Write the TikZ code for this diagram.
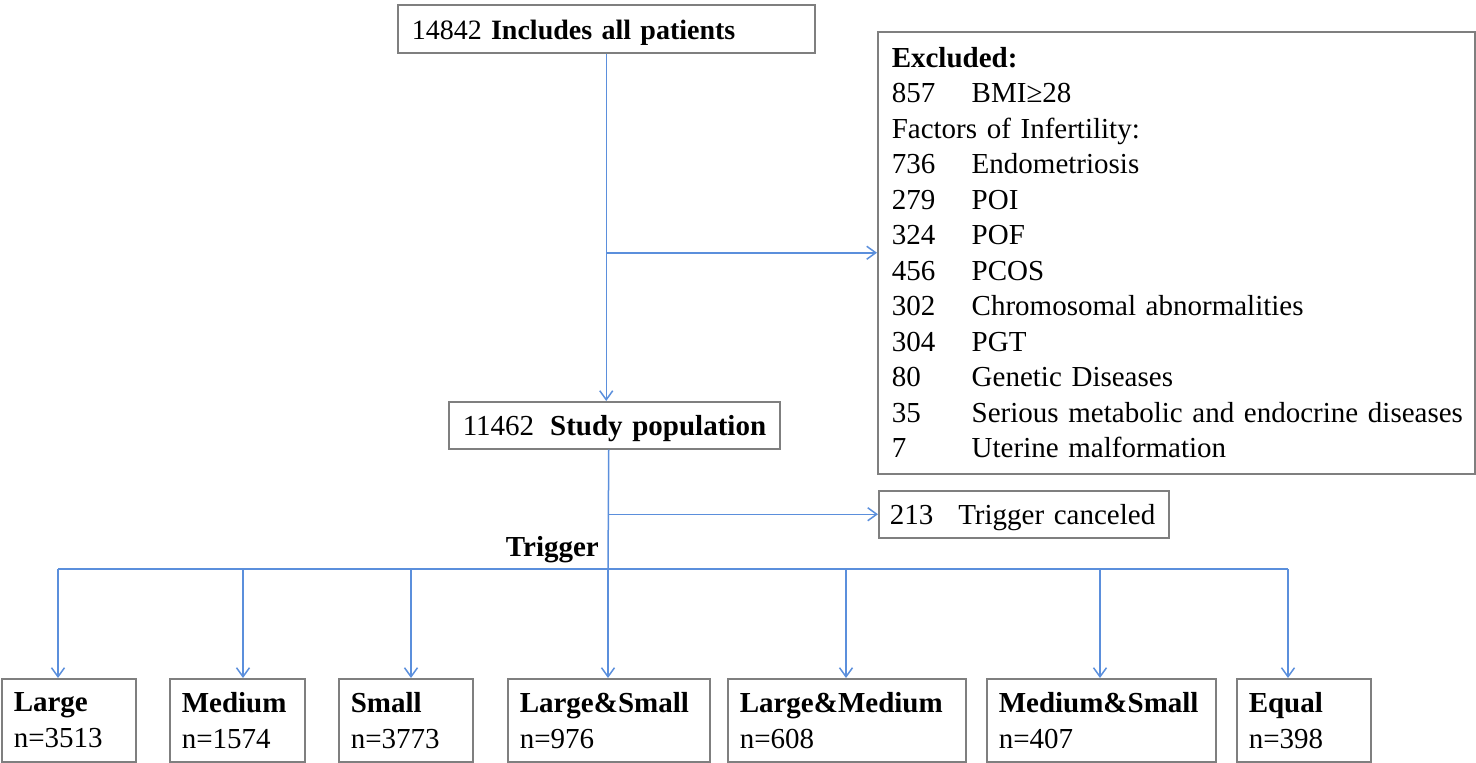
\documentclass[tikz,border=0pt]{standalone}
\usepackage{fontspec}
\setmainfont{Liberation Serif}
\usetikzlibrary{arrows.meta}
\definecolor{flowblue}{HTML}{5B8FDC}
\definecolor{boxgray}{HTML}{7F7F7F}
\newcommand\exrow[2]{\mbox{\makebox[80pt][l]{#1}#2}}

\begin{document}
\begin{tikzpicture}[x=1pt, y=-1pt,
		font=\fontsize{29pt}{36pt}\selectfont,
		box/.style={draw=boxgray, line width=1.5pt, anchor=north west, align=left, inner ysep=0pt, inner xsep=12pt},
		oneline/.style={text height=21pt, text depth=0pt},
		flow/.style={draw=flowblue, line width=1.5pt},
		arr/.style={flow, -{Straight Barb[length=9pt,width=13pt]}}
		]
	\useasboundingbox (0,0) rectangle (1476,763);
	\node [box,oneline,text height=22pt,inner xsep=14pt,text width=389pt,minimum height=48pt,font=\fontsize{28pt}{36pt}\selectfont] (top) at (397,4) {\mbox{14842 \textbf{Includes all patients}}};
	\node [box,inner xsep=14pt,text width=569pt,minimum height=442pt,font=\fontsize{29pt}{35.5pt}\selectfont] (excl) at (877,31) {\textbf{Excluded:}\\
		\exrow{857}{BMI≥28}\\
		\mbox{Factors of Infertility:}\\
		\exrow{736}{Endometriosis}\\
		\exrow{279}{POI}\\
		\exrow{324}{POF}\\
		\exrow{456}{PCOS}\\
		\exrow{302}{Chromosomal abnormalities}\\
		\exrow{304}{PGT}\\
		\exrow{80}{Genetic Diseases}\\
		\exrow{35}{Serious metabolic and endocrine diseases}\\
		\exrow{7}{Uterine malformation}};
	\node [box,oneline,inner xsep=14pt,text width=303pt,minimum height=47pt] (study) at (448,401) {\mbox{11462\hspace{16pt}\textbf{Study population}}};
	\node [box,oneline,inner xsep=11pt,text width=268pt,minimum height=47pt] (cancel) at (878,490) {\mbox{213\hspace{25pt}Trigger canceled}};
	\node [anchor=base east,inner sep=0pt,font=\fontsize{29pt}{36pt}\selectfont\bfseries] (trig) at (599,556) {Trigger};
	\foreach \nm/\x/\w/\lab/\cnt/\dx in {large/1/134/Large/3513/58, medium/169/135/Medium/1574/243, small/338/134/Small/3773/411, lgsm/507/202/Large\&Small/976/608, lgmd/727/238/Large\&Medium/608/846, mdsm/986/229/Medium\&Small/407/1100, equal/1236/134/Equal/398/1288}
	{
		\pgfmathsetmacro\tw{\w-24}
		\node [box,text width=\tw pt,minimum height=83pt] (\nm) at (\x,678) {\mbox{\textbf{\lab}}\\ n=\cnt};
		\coordinate (d\nm) at (\dx,569);
		\draw [arr] (d\nm) -- (d\nm |- \nm.north);
	}
	\draw [arr] (top.south) -- (top.south |- study.north);
	\draw [arr] (top.south |- excl.west) -- (excl.west);
	\draw [flow] (lgsm.north |- study.south) -- (dlgsm);
	\draw [arr] (lgsm.north |- cancel.west) -- (cancel.west);
	\draw [flow] (dlarge) -- (dequal);
\end{tikzpicture}
\end{document}
